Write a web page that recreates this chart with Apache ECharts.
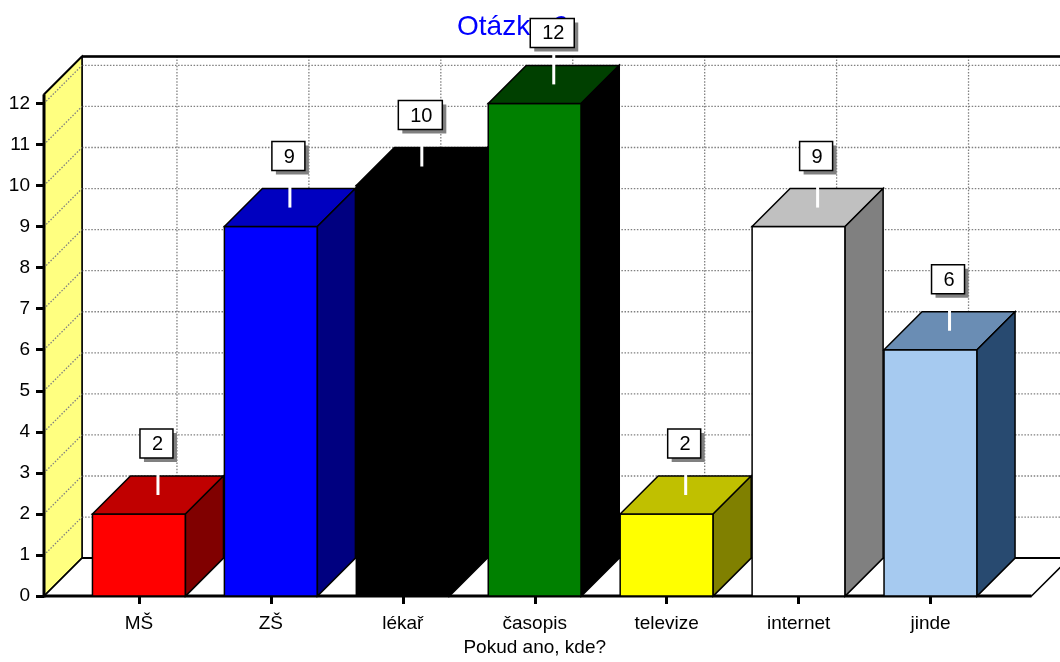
<!DOCTYPE html>
<html>
<head>
<meta charset="utf-8">
<script src="https://cdn.jsdelivr.net/npm/echarts@6/dist/echarts.min.js"></script>
<style>
html, body { margin:0; padding:0; background:#fff; width:100%; height:100%; overflow:hidden; }
#main { position:absolute; left:0; top:0; width:1060px; height:100vh; }
</style>
</head>
<body>
<div id="main"></div>
<script>
var categories = ['MŠ', 'ZŠ', 'lékař', 'časopis', 'televize', 'internet', 'jinde'];
var values = [2, 9, 10, 12, 2, 9, 6];
var frontColors = ['#ff0000', '#0000ff', '#000000', '#008000', '#ffff00', '#ffffff', '#a6caf0'];
var topColors = ['#c00000', '#0000c0', '#000000', '#004000', '#c0c000', '#c0c0c0', '#6a8db4'];
var sideColors = ['#800000', '#000080', '#000000', '#000000', '#808000', '#808080', '#284a70'];

var FONT = "'Liberation Sans', Arial, sans-serif";
var LEFT_EXT = 29, RIGHT_EXT = 35;   // floor beyond the category band
var GRID_DOT = { stroke:'#808080', lineWidth:1.3, lineDash:[1.5, 1.6] };

function initPage()
{
	var dom = document.getElementById('main');
	var H = dom.clientHeight || 662;
	var SY = H / 662;          // layout was measured on a 662px tall picture
	var DX = 38, DY = -38 * SY;  // depth of the 3d box

	var chart = echarts.init(dom, null, { renderer:'canvas' });

	var barData = [];
	for (var i = 0; i < values.length; i++) {
		barData.push([i, values[i]]);
	}

	// walls, floor and grid lines
	function renderFrame(params, api)
	{
		var band = api.size([1, 0])[0];
		var p0 = api.coord([0, 0]);
		var p6 = api.coord([categories.length - 1, 0]);
		var xL = p0[0] - band / 2 - LEFT_EXT;
		var xR = p6[0] + band / 2 + RIGHT_EXT;
		var yB = p0[1];
		var yT = api.coord([0, 12])[1] - 9 * SY;
		var farX = 1200;
		var els = [];

		// back wall
		els.push({ type:'polygon', shape:{ points:[[xL+DX, yT+DY], [farX, yT+DY], [farX, yB+DY], [xL+DX, yB+DY]] },
			style:{ fill:'#ffffff', stroke:'#000', lineWidth:1.5 } });
		for (var v = 1; v <= 12; v++) {
			var y = api.coord([0, v])[1];
			els.push({ type:'line', shape:{ x1:xL+DX, y1:y+DY, x2:farX, y2:y+DY }, style:GRID_DOT });
		}
		for (var c = 0; c < categories.length; c++) {
			var x = api.coord([c, 0])[0] + DX;
			els.push({ type:'line', shape:{ x1:x, y1:yT+DY, x2:x, y2:yB+DY }, style:GRID_DOT });
		}
		els.push({ type:'line', shape:{ x1:xL+DX, y1:yT+DY, x2:farX, y2:yT+DY }, style:{ stroke:'#000', lineWidth:2.5 } });

		// left wall
		els.push({ type:'polygon', shape:{ points:[[xL, yB], [xL, yT], [xL+DX, yT+DY], [xL+DX, yB+DY]] },
			style:{ fill:'#ffff80', stroke:'#000', lineWidth:1.5 } });
		for (var v2 = 1; v2 <= 12; v2++) {
			var yy = api.coord([0, v2])[1];
			els.push({ type:'line', shape:{ x1:xL, y1:yy, x2:xL+DX, y2:yy+DY }, style:GRID_DOT });
		}
		els.push({ type:'line', shape:{ x1:xL, y1:yB + 1.5, x2:xL, y2:yT }, style:{ stroke:'#000', lineWidth:3 } });
		els.push({ type:'line', shape:{ x1:xL, y1:yT, x2:xL+DX, y2:yT+DY }, style:{ stroke:'#000', lineWidth:2 } });

		// floor
		els.push({ type:'polygon', shape:{ points:[[xL, yB], [xR, yB], [xR+DX, yB+DY], [xL+DX, yB+DY]] },
			style:{ fill:'#ffffff', stroke:'#000', lineWidth:1.5 } });
		els.push({ type:'line', shape:{ x1:xL+DX, y1:yB+DY, x2:farX, y2:yB+DY }, style:{ stroke:'#000', lineWidth:2 } });
		els.push({ type:'line', shape:{ x1:xL, y1:yB, x2:xR, y2:yB }, style:{ stroke:'#000', lineWidth:3 } });

		return { type:'group', children:els };
	}

	function renderBar(params, api)
	{
		var i = api.value(0);
		var top = api.coord([i, api.value(1)]);
		var base = api.coord([i, 0]);
		var w = api.size([1, 0])[0] * 0.705;
		var x1 = top[0] - w / 2, x2 = top[0] + w / 2;
		var yt = top[1], yb = base[1];
		var st = { stroke:'#000', lineWidth:1.5, lineJoin:'miter' };

		return {
			type:'group',
			children:[
				{ type:'rect', shape:{ x:x1, y:yt, width:w, height:yb - yt },
					style:Object.assign({ fill:frontColors[i] }, st) },
				{ type:'polygon', shape:{ points:[[x1, yt], [x2, yt], [x2+DX, yt+DY], [x1+DX, yt+DY]] },
					style:Object.assign({ fill:topColors[i] }, st) },
				{ type:'polygon', shape:{ points:[[x2, yt], [x2+DX, yt+DY], [x2+DX, yb+DY], [x2, yb]] },
					style:Object.assign({ fill:sideColors[i] }, st) }
			]
		};
	}

	function renderLabel(params, api)
	{
		var i = api.value(0);
		var v = api.value(1);
		var top = api.coord([i, v]);
		var cx = top[0] + DX / 2;
		var cy = top[1] + DY / 2;
		var txt = String(v);
		var bw = txt.length > 1 ? 44 : 33;
		var bh = 29 * SY;
		var bBottom = cy - 37 * SY;
		var bx = cx - 1.5 - bw / 2;

		return {
			type:'group',
			children:[
				{ type:'line', shape:{ x1:cx, y1:cy, x2:cx, y2:bBottom }, style:{ stroke:'#ffffff', lineWidth:3 } },
				{ type:'rect', shape:{ x:bx + 4, y:bBottom - bh + 4, width:bw, height:bh }, style:{ fill:'#808080' } },
				{ type:'rect', shape:{ x:bx, y:bBottom - bh, width:bw, height:bh }, style:{ fill:'#ffffff', stroke:'#000', lineWidth:1.5 } },
				{ type:'text', x:bx + bw / 2 + 1, y:bBottom - bh / 2 + 1,
					style:{ text:txt, fill:'#000', font:'20px ' + FONT, align:'center', verticalAlign:'middle' } }
			]
		};
	}

	var option = {
		backgroundColor:'#ffffff',
		animation:false,
		title:{
			text:'Otázka 9.',
			left:457,
			top:13 * SY,
			padding:0,
			z:0,
			textStyle:{ color:'#0000ff', fontSize:28, fontWeight:'normal', fontFamily:FONT }
		},
		grid:{ left:73, width:923.5, top:103.4 * SY, bottom:62 * SY, containLabel:false },
		xAxis:{
			type:'category',
			data:categories,
			name:'Pokud ano, kde?',
			nameLocation:'middle',
			nameGap:40 * SY,
			nameTextStyle:{ color:'#000', fontSize:19, fontFamily:FONT },
			axisLine:{ show:false },
			axisTick:{ show:true, alignWithLabel:true, length:8, lineStyle:{ color:'#000', width:3 } },
			axisLabel:{ color:'#000', fontSize:19, fontFamily:FONT, margin:18 * SY },
			splitLine:{ show:false }
		},
		yAxis:{
			type:'value',
			min:0,
			max:12,
			interval:1,
			offset:29,
			axisLine:{ show:false },
			axisTick:{ show:true, length:8, lineStyle:{ color:'#000', width:3 } },
			axisLabel:{ color:'#000', fontSize:19, fontFamily:FONT, margin:14 },
			splitLine:{ show:false }
		},
		series:[
			{ type:'custom', name:'frame', z:1, silent:true, renderItem:renderFrame, data:[[0, 0]] },
			{ type:'custom', name:'bars', z:3, renderItem:renderBar, data:barData },
			{ type:'custom', name:'labels', z:10, renderItem:renderLabel, data:barData }
		]
	};

	chart.setOption(option);
}

initPage();
</script>
</body>
</html>
